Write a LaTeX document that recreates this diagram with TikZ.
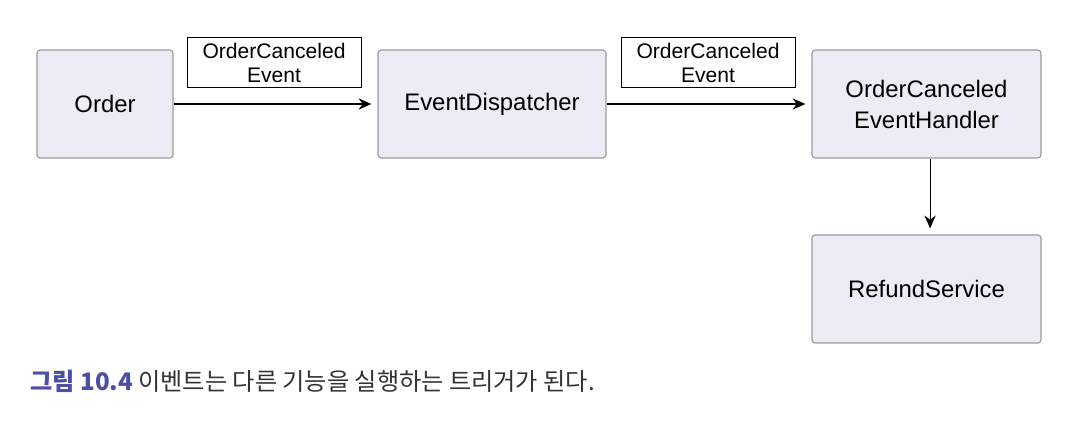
\documentclass[tikz,border=0pt]{standalone}
\usepackage{fontspec}
\setmainfont{Liberation Sans}
\newfontfamily\krfont{Noto Sans CJK KR}
\usetikzlibrary{arrows.meta}
\definecolor{boxfill}{HTML}{ECEBF6}
\definecolor{boxline}{HTML}{9C9C9C}
\definecolor{capblue}{HTML}{4B4FA6}
\definecolor{captext}{HTML}{333333}
\tikzset{
  block/.style={draw=boxline, line width=0.03cm, fill=boxfill, rounded corners=0.08cm,
    minimum height=2.7cm, align=center, font=\fontsize{17}{22}\selectfont},
  evlabel/.style={draw=black, line width=0.025cm, fill=white, minimum width=4.35cm,
    minimum height=1.25cm, inner sep=0pt, align=center, font=\fontsize{15}{16.5}\selectfont},
  flow/.style={line width=0.03cm, -{Stealth[length=0.32cm,width=0.28cm]}, shorten >=0.15cm}
}
\begin{document}
\begin{tikzpicture}
  \useasboundingbox (0,0) rectangle (26.75,10.65);

  % Drawing box Order
  \node [block, minimum width=3.4cm] (order) at (2.625,8.05) {Order};

  % Drawing box EventDispatcher
  \node [block, minimum width=5.7cm] (dispatcher) at (12.3,8.05) {EventDispatcher};

  % Drawing box OrderCanceledEventHandler
  \node [block, minimum width=5.725cm] (handler) at (23.1625,8.05) {OrderCanceled\\EventHandler};

  % Drawing box RefundService
  \node [block, minimum width=5.725cm] (refund) at (23.1625,3.425) {RefundService};

  % Drawing event labels
  \node [evlabel] (ev1) at (6.85,9.075) {OrderCanceled\\Event};
  \node [evlabel] (ev2) at (17.7,9.075) {OrderCanceled\\Event};

  % Drawing arrows
  \draw [flow] (order) -- (dispatcher);
  \draw [flow] (dispatcher) -- (handler);
  \draw [flow] ([xshift=0.09cm]handler.south) -- ([xshift=0.09cm]refund.north);

  % Caption
  \node [anchor=west, inner sep=0pt, font=\krfont\fontsize{17.2}{20}\selectfont] (caption) at (0.75,1.125)
    {{\color{capblue}\bfseries 그림 10.4} {\color{captext}이벤트는 다른 기능을 실행하는 트리거가 된다.}};
\end{tikzpicture}
\end{document}
